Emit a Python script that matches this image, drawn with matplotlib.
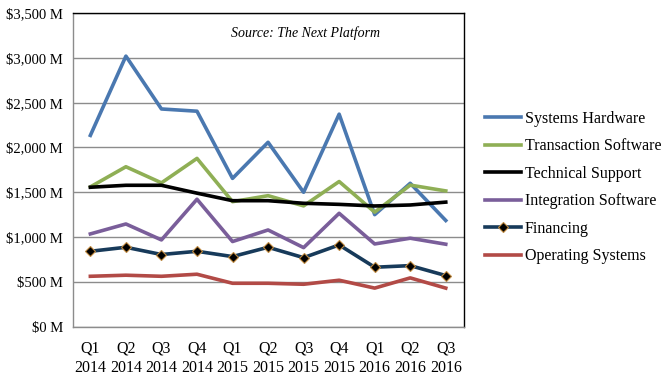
import matplotlib
matplotlib.use("Agg")
import matplotlib.pyplot as plt
from matplotlib.ticker import FuncFormatter

quarters = ["Q1\n2014", "Q2\n2014", "Q3\n2014", "Q4\n2014", "Q1\n2015", "Q2\n2015",
            "Q3\n2015", "Q4\n2015", "Q1\n2016", "Q2\n2016", "Q3\n2016"]
systems_hardware = [2135, 3020, 2430, 2405, 1655, 2058, 1500, 2372, 1250, 1600, 1185]
transaction_software = [1560, 1785, 1605, 1878, 1395, 1462, 1348, 1620, 1278, 1580, 1515]
technical_support = [1556, 1578, 1578, 1490, 1406, 1406, 1377, 1365, 1347, 1358, 1390]
integration_software = [1035, 1146, 968, 1422, 950, 1079, 882, 1265, 923, 987, 920]
financing = [841, 886, 805, 841, 782, 886, 770, 912, 663, 681, 570]
operating_systems = [562, 574, 562, 585, 484, 484, 473, 518, 430, 544, 430]
yticks = [0, 500, 1000, 1500, 2000, 2500, 3000, 3500]

plt.rcParams['font.family'] = ['Liberation Serif', 'DejaVu Serif']

fig = plt.figure(figsize=(6.66, 3.75), dpi=100)
ax = fig.add_axes([0.109, 0.129, 0.587, 0.836])

x = list(range(len(quarters)))
lw = 2.6
ax.plot(x, systems_hardware, color="#4A78B0", lw=lw, label="Systems Hardware", zorder=3)
ax.plot(x, transaction_software, color="#8FAF55", lw=lw, label="Transaction Software", zorder=3)
ax.plot(x, technical_support, color="#000000", lw=lw, label="Technical Support", zorder=3)
ax.plot(x, integration_software, color="#7A5E9A", lw=lw, label="Integration Software", zorder=3)
ax.plot(x, financing, color="#173A5A", lw=lw, label="Financing", zorder=3,
        marker="D", markersize=5, markerfacecolor="#000000", markeredgecolor="#C08A40",
        markeredgewidth=0.8)
ax.plot(x, operating_systems, color="#B24A46", lw=lw, label="Operating Systems", zorder=3)

ax.set_xlim(-0.5, len(quarters) - 0.5)
ax.set_ylim(0, 3500)
ax.set_yticks(yticks)
ax.yaxis.set_major_formatter(FuncFormatter(lambda v, p: "${:,.0f} M".format(v)))
ax.set_xticks(x)
ax.set_xticklabels(quarters, fontsize=11.5, linespacing=1.25)
ax.tick_params(axis="y", labelsize=10.5, length=0, pad=7)
ax.tick_params(axis="x", length=0, pad=10)
ax.grid(axis="y", color="#8C8C8C", lw=1.0, zorder=1)
for s in ax.spines.values():
    s.set_color("#000000")
    s.set_linewidth(1.0)
ax.spines["left"].set_color("#8C8C8C")
ax.spines["bottom"].set_color("#8C8C8C")

ax.text(0.595, 0.935, "Source: The Next Platform", transform=ax.transAxes,
        ha="center", va="center", style="italic", fontsize=10)

fig.legend(loc="upper left", bbox_to_anchor=(0.718, 0.722), frameon=False,
           fontsize=11.5, handlelength=2.3, handletextpad=0.2, labelspacing=0.72,
           borderaxespad=0)

fig.savefig("out.png", dpi=100)
